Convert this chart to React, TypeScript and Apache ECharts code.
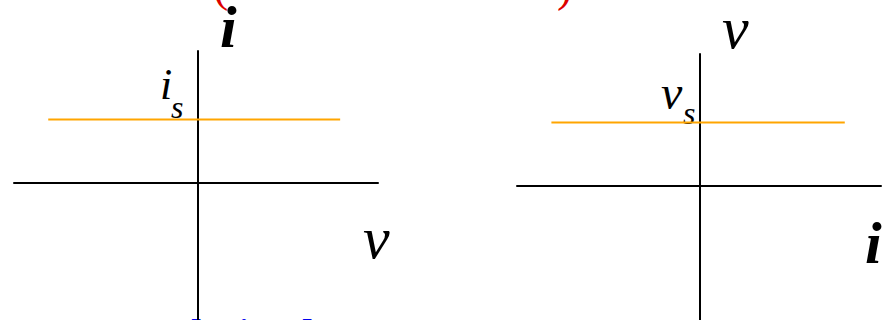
import React, { useEffect, useRef } from "react";
import * as echarts from "echarts";

// Left panel: i–v plane (current source), axis extents in relative units
const leftXRange = [-1.02, 1];
const leftYRange = [-1.04, 1];
const leftSourceX = [-0.83, 0.79];
const leftSourceLevel = [0.48, 0.48];

// Right panel: v–i plane (voltage source)
const rightXRange = [-1.01, 1];
const rightYRange = [-1.02, 1];
const rightSourceX = [-0.82, 0.8];
const rightSourceLevel = [0.48, 0.48];

const SERIF = "Liberation Serif";

export default function App() {
  const ref = useRef<HTMLDivElement>(null);

  useEffect(() => {
    document.body.style.margin = "0";
    if (!ref.current) return;
    const chart = echarts.init(ref.current, null, { renderer: "svg" });

    const axisCommon = {
      type: "value" as const,
      axisLine: { show: true, onZero: true, lineStyle: { color: "#000", width: 2 } },
      axisTick: { show: false },
      axisLabel: { show: false },
      splitLine: { show: false },
    };

    const txt = (
      text: string,
      x: number,
      y: number,
      size: number,
      opts: any = {}
    ) => ({
      type: "text",
      x,
      y,
      silent: true,
      style: {
        text,
        fill: opts.color || "#000",
        fontFamily: SERIF,
        fontStyle: opts.style || "italic",
        fontWeight: opts.weight || "normal",
        fontSize: size,
        align: "left",
        verticalAlign: "middle",
      },
    });

    chart.setOption({
      animation: false,
      backgroundColor: "#fff",
      grid: [
        { left: 14, top: 51, width: 364, height: 269 },
        { left: 517, top: 54, width: 364, height: 266 },
      ],
      xAxis: [
        { ...axisCommon, gridIndex: 0, min: leftXRange[0], max: leftXRange[1] },
        { ...axisCommon, gridIndex: 1, min: rightXRange[0], max: rightXRange[1] },
      ],
      yAxis: [
        { ...axisCommon, gridIndex: 0, min: leftYRange[0], max: leftYRange[1] },
        { ...axisCommon, gridIndex: 1, min: rightYRange[0], max: rightYRange[1] },
      ],
      series: [
        {
          type: "line",
          xAxisIndex: 0,
          yAxisIndex: 0,
          data: leftSourceX.map((x, k) => [x, leftSourceLevel[k]]),
          symbol: "none",
          lineStyle: { color: "#FFA500", width: 2 },
          silent: true,
        },
        {
          type: "line",
          xAxisIndex: 1,
          yAxisIndex: 1,
          data: rightSourceX.map((x, k) => [x, rightSourceLevel[k]]),
          symbol: "none",
          lineStyle: { color: "#FFA500", width: 2 },
          silent: true,
        },
      ],
      graphic: [
        // cut-off red title parentheses
        txt("(", 213, -15, 46, { style: "normal", color: "#DD0000" }),
        txt(")", 557, -15, 46, { style: "normal", color: "#DD0000" }),
        // left panel labels
        txt("i", 220, 27, 60, { weight: "bold" }),
        txt("v", 363, 238, 60),
        txt("i", 160, 84, 44),
        txt("s", 171, 107, 32),
        // right panel labels
        txt("v", 722, 28, 60),
        txt("i", 865, 243, 60, { weight: "bold" }),
        txt("v", 661, 92, 48),
        txt("s", 683, 113, 32),
        // cut-off blue text at the bottom
        txt("d", 180, 333, 40, { weight: "bold", color: "#0000EE" }),
        txt("i", 236, 333, 40, { weight: "bold", color: "#0000EE" }),
        txt("d", 291, 333, 40, { weight: "bold", color: "#0000EE" }),
      ],
    });

    return () => chart.dispose();
  }, []);

  return <div ref={ref} style={{ width: 894, height: 320, overflow: "hidden" }} />;
}
